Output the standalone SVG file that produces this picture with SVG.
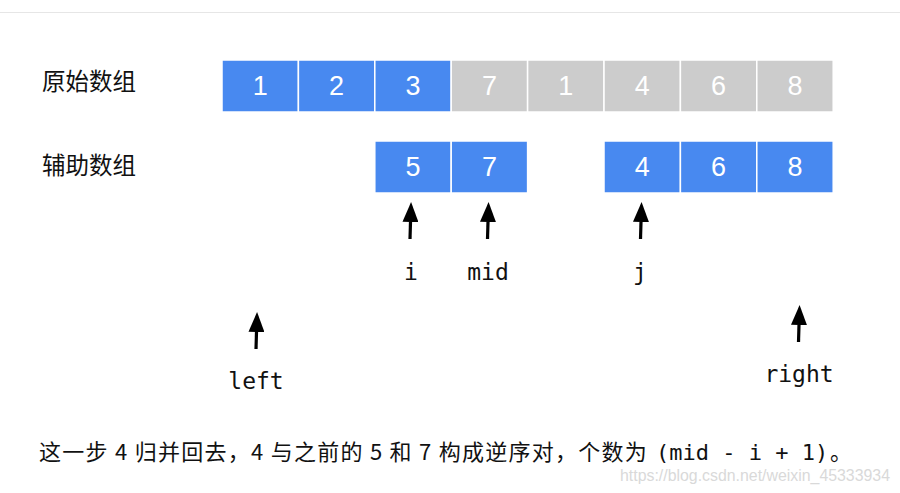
<svg xmlns="http://www.w3.org/2000/svg" width="900" height="493" viewBox="0 0 900 493">
<style>
.cell-b{fill:#4889f0;stroke:#ffffff;stroke-width:1.5}
.cell-g{fill:#cccccc;stroke:#ffffff;stroke-width:1.5}
.num{font-family:"Liberation Sans",Arial,sans-serif;font-size:27px;fill:#ffffff;text-anchor:middle}
.lbl{font-family:"Noto Sans CJK SC",sans-serif;font-size:23.5px;fill:#111111}
.ptr{font-family:"DejaVu Sans Mono",monospace;font-size:23px;fill:#111111;text-anchor:middle}
.arr{stroke:#000000;stroke-width:3.2;fill:none;marker-end:url(#head)}
</style>
<defs>
<marker id="head" markerUnits="userSpaceOnUse" viewBox="0 0 20 16" refX="0" refY="8" markerWidth="20" markerHeight="16" orient="auto">
<path d="M0,0 L20,8 L0,16 Z" fill="#000000"/>
</marker>
</defs>
<rect width="900" height="493" fill="#ffffff"/>
<line x1="0" y1="12.5" x2="900" y2="12.5" stroke="#e6e6e6" stroke-width="1"/>
<g id="label-original"><text class="lbl" x="42" y="90">原始数组</text></g>
<g id="label-aux"><text class="lbl" x="42" y="174">辅助数组</text></g>
<g id="orig-array">
<g id="o0"><rect class="cell-b" x="222" y="60" width="76.4" height="52"/><text class="num" x="260.2" y="95">1</text></g>
<g id="o1"><rect class="cell-b" x="298.4" y="60" width="76.4" height="52"/><text class="num" x="336.6" y="95">2</text></g>
<g id="o2"><rect class="cell-b" x="374.8" y="60" width="76.4" height="52"/><text class="num" x="413" y="95">3</text></g>
<g id="o3"><rect class="cell-g" x="451.2" y="60" width="76.4" height="52"/><text class="num" x="489.4" y="95">7</text></g>
<g id="o4"><rect class="cell-g" x="527.6" y="60" width="76.4" height="52"/><text class="num" x="565.8" y="95">1</text></g>
<g id="o5"><rect class="cell-g" x="604" y="60" width="76.4" height="52"/><text class="num" x="642.2" y="95">4</text></g>
<g id="o6"><rect class="cell-g" x="680.4" y="60" width="76.4" height="52"/><text class="num" x="718.6" y="95">6</text></g>
<g id="o7"><rect class="cell-g" x="756.8" y="60" width="76.4" height="52"/><text class="num" x="795" y="95">8</text></g>
</g>
<g id="aux-array">
<g id="a2"><rect class="cell-b" x="374.8" y="141" width="76.4" height="52"/><text class="num" x="413" y="176">5</text></g>
<g id="a3"><rect class="cell-b" x="451.2" y="141" width="76.4" height="52"/><text class="num" x="489.4" y="176">7</text></g>
<g id="a5"><rect class="cell-b" x="604" y="141" width="76.4" height="52"/><text class="num" x="642.2" y="176">4</text></g>
<g id="a6"><rect class="cell-b" x="680.4" y="141" width="76.4" height="52"/><text class="num" x="718.6" y="176">6</text></g>
<g id="a7"><rect class="cell-b" x="756.8" y="141" width="76.4" height="52"/><text class="num" x="795" y="176">8</text></g>
</g>
<g id="connectors">
<line class="arr" x1="410" y1="239" x2="410.5" y2="222"/>
<line class="arr" x1="487.5" y1="239" x2="488" y2="222"/>
<line class="arr" x1="640.5" y1="239" x2="641" y2="222"/>
<line class="arr" x1="256" y1="349" x2="256.5" y2="332"/>
<line class="arr" x1="798.5" y1="342" x2="799" y2="325"/>
</g>
<g id="ptr-i"><text class="ptr" x="411" y="280">i</text></g>
<g id="ptr-mid"><text class="ptr" x="488" y="280">mid</text></g>
<g id="ptr-j"><text class="ptr" x="640" y="280">j</text></g>
<g id="ptr-left"><text class="ptr" x="256" y="389">left</text></g>
<g id="ptr-right"><text class="ptr" x="799" y="382">right</text></g>
<g id="caption">
<text y="460" font-size="22" fill="#111111" font-family="'Noto Sans CJK SC',sans-serif"><tspan x="39" textLength="614" lengthAdjust="spacing">这一步 4 归并回去，4 与之前的 5 和 7 构成逆序对，个数为 </tspan><tspan x="656" font-family="'DejaVu Sans Mono',monospace" font-size="22">(mid - i + 1)</tspan><tspan x="830">。</tspan></text>
</g>
<text x="620" y="481" font-family="'Liberation Sans',Arial,sans-serif" font-size="16" fill="#d9d9d9" textLength="270" lengthAdjust="spacingAndGlyphs">https://blog.csdn.net/weixin_45333934</text>
</svg>
